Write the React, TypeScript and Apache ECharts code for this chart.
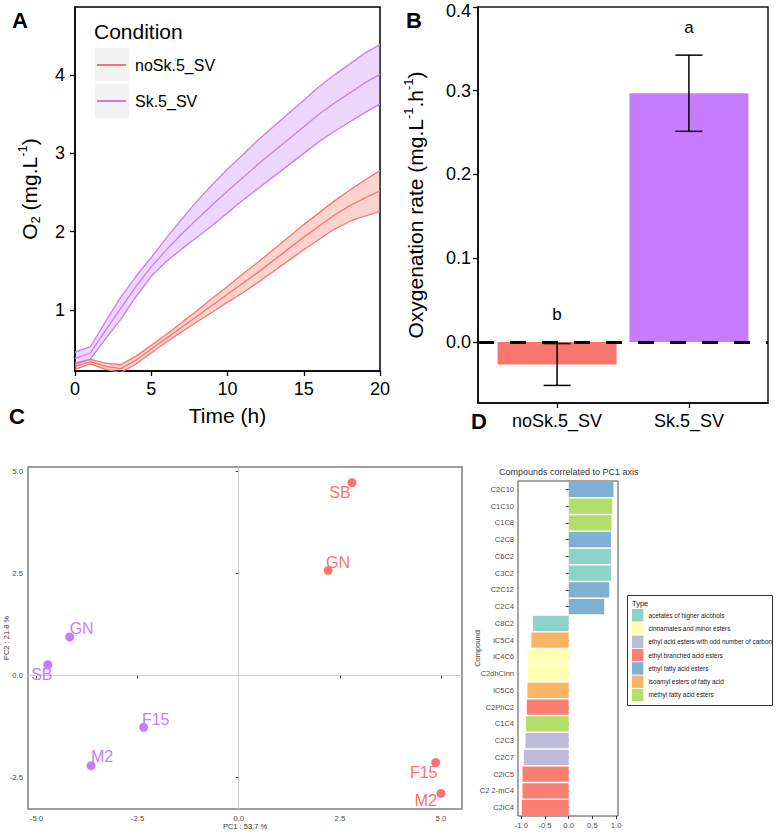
import React, { useEffect, useRef } from 'react';
import * as echarts from 'echarts';

const FONT = 'Liberation Sans, Arial, Helvetica, sans-serif';
const RED = '#F8766D';
const PURPLE = '#C77CFF';
const RED_FILL = 'rgba(248,118,109,0.32)';
const PURPLE_FILL = 'rgba(199,124,255,0.3)';

// ---------- Panel A: O2 over time ----------
const conditions = ['noSk.5_SV', 'Sk.5_SV'];
const timeH = [0, 1, 2, 3, 4, 5, 6, 7, 8, 9, 10, 11, 12, 13, 14, 15, 16, 17, 18, 19, 20];
const noSkMean = [0.28, 0.34, 0.28, 0.25, 0.36, 0.5, 0.64, 0.78, 0.92, 1.06, 1.2, 1.34, 1.48, 1.63, 1.78, 1.93, 2.07, 2.21, 2.33, 2.43, 2.52];
const noSkUpper = [0.32, 0.37, 0.32, 0.3, 0.41, 0.55, 0.69, 0.84, 0.99, 1.15, 1.3, 1.46, 1.61, 1.77, 1.93, 2.09, 2.24, 2.39, 2.53, 2.66, 2.78];
const noSkLower = [0.24, 0.31, 0.24, 0.2, 0.31, 0.45, 0.59, 0.72, 0.85, 0.97, 1.1, 1.22, 1.35, 1.49, 1.63, 1.77, 1.9, 2.03, 2.13, 2.2, 2.26];
const skMean = [0.38, 0.45, 0.74, 1.02, 1.3, 1.55, 1.77, 1.97, 2.16, 2.34, 2.52, 2.69, 2.86, 3.02, 3.18, 3.34, 3.5, 3.64, 3.77, 3.9, 4.01];
const skUpper = [0.46, 0.53, 0.85, 1.16, 1.43, 1.67, 1.92, 2.16, 2.39, 2.6, 2.8, 2.98, 3.17, 3.34, 3.51, 3.68, 3.85, 4.0, 4.14, 4.28, 4.39];
const skLower = [0.3, 0.37, 0.63, 0.88, 1.17, 1.43, 1.62, 1.78, 1.93, 2.08, 2.24, 2.4, 2.55, 2.7, 2.85, 3.0, 3.15, 3.28, 3.4, 3.52, 3.63];
const aYTicks = [1, 2, 3, 4];

// ---------- Panel B: oxygenation rate ----------
const rateMean = [-0.027, 0.297];
const rateSE = [0.025, 0.0455];
const sigLetters = ['b', 'a'];
const bYTicks = [0, 0.1, 0.2, 0.3, 0.4];

// ---------- Panel C: PCA ----------
const pcaNames = ['SB', 'GN', 'F15', 'M2'];
const pcaNoSkPC1 = [2.8, 2.21, 4.87, 5.0];
const pcaNoSkPC2 = [4.72, 2.57, -2.13, -2.89];
const pcaSkPC1 = [-4.72, -4.18, -2.35, -3.65];
const pcaSkPC2 = [0.26, 0.94, -1.27, -2.21];
const cXTicks = [-5, -2.5, 0, 2.5, 5];
const cYTicks = [-2.5, 0, 2.5, 5];
// label placement (style only)
const noSkLabelOffsets = [[-12, 10], [10, -8], [-12, 10], [-15, 7]];
const skLabelOffsets = [[-6, 10], [12, -8], [12, -8], [11, -9]];

// ---------- Panel D: correlations ----------
const compounds = ['C2C10', 'C1C10', 'C1C8', 'C2C8', 'C6C2', 'C3C2', 'C2C12', 'C2C4', 'C8C2', 'iC5C4', 'iC4C6', 'C2dhCinn', 'iC5C6', 'C2PhC2', 'C1C4', 'C2C3', 'C2C7', 'C2iC5', 'C2 2-mC4', 'C2iC4'];
const correlations = [0.945, 0.919, 0.905, 0.891, 0.891, 0.89, 0.856, 0.751, -0.751, -0.786, -0.863, -0.863, -0.87, -0.884, -0.898, -0.912, -0.947, -0.975, -0.975, -0.99];
const typeNames = ['acetates of higher alcohols', 'cinnamates and minor esters', 'ethyl acid esters with odd number of carbon', 'ethyl branched acid esters', 'ethyl fatty acid esters', 'isoamyl esters of fatty acid', 'methyl fatty acid esters'];
const typeColors = ['#8DD3C7', '#FFFFB3', '#BEBADA', '#FB8072', '#80B1D3', '#FDB462', '#B3DE69'];
const compoundTypes = [
  'ethyl fatty acid esters', 'methyl fatty acid esters', 'methyl fatty acid esters', 'ethyl fatty acid esters',
  'acetates of higher alcohols', 'acetates of higher alcohols', 'ethyl fatty acid esters', 'ethyl fatty acid esters',
  'acetates of higher alcohols', 'isoamyl esters of fatty acid', 'cinnamates and minor esters', 'cinnamates and minor esters',
  'isoamyl esters of fatty acid', 'ethyl branched acid esters', 'methyl fatty acid esters',
  'ethyl acid esters with odd number of carbon', 'ethyl acid esters with odd number of carbon',
  'ethyl branched acid esters', 'ethyl branched acid esters', 'ethyl branched acid esters',
];
const dXTicks = [-1, -0.5, 0, 0.5, 1];

const richBig = {
  a: { fontSize: 21, color: '#000', lineHeight: 26, fontFamily: FONT },
  s: { fontSize: 13, color: '#000', lineHeight: 13, verticalAlign: 'bottom', fontFamily: FONT },
  p: { fontSize: 13, color: '#000', lineHeight: 13, verticalAlign: 'top', fontFamily: FONT },
};

function buildOption() {
  const lineBase = { type: 'line', xAxisIndex: 0, yAxisIndex: 0, symbol: 'none', silent: true };
  const lines = (name, color, lower, upper, mean) => [
    { ...lineBase, name, color, data: timeH.map((t, i) => [t, mean[i]]), lineStyle: { color, width: 1.3 }, z: 3 },
    { ...lineBase, name, color, data: timeH.map((t, i) => [t, lower[i]]), lineStyle: { color, width: 1.3 }, z: 3 },
    { ...lineBase, name, color, data: timeH.map((t, i) => [t, upper[i]]), lineStyle: { color, width: 1.3 }, z: 3 },
  ];
  const ribbon = (name, fill, lower, upper) => ({
    type: 'custom', name, xAxisIndex: 0, yAxisIndex: 0, silent: true, clip: true, z: 1,
    encode: { x: 0, y: [1, 2] },
    data: timeH.map((t, i) => [t, lower[i], upper[i]]),
    renderItem: (params, api) => {
      if (params.dataIndex !== 0) return null;
      const pts = [];
      for (let i = 0; i < timeH.length; i++) pts.push(api.coord([timeH[i], upper[i]]));
      for (let i = timeH.length - 1; i >= 0; i--) pts.push(api.coord([timeH[i], lower[i]]));
      return { type: 'polygon', shape: { points: pts }, style: { fill } };
    },
  });

  const titleStyle = { fontSize: 22, fontWeight: 'bold', color: '#000', fontFamily: FONT };

  const axisBlack = { show: true, onZero: false, lineStyle: { color: '#000', width: 1.5 } };
  const tickBlack = { show: true, length: 5, lineStyle: { color: '#000', width: 1.3 } };
  const labelBlack = { fontSize: 18, color: '#000', fontFamily: FONT };

  const smallLabel = { fontSize: 7.7, color: '#4d4d4d', fontFamily: FONT };
  const smallTick = { show: true, length: 3, lineStyle: { color: '#333', width: 1 } };

  const bMax = bYTicks[bYTicks.length - 1];

  return {
    animation: false,
    textStyle: { fontFamily: FONT },
    title: [
      { text: 'A', left: 12, top: 9, padding: 0, textStyle: titleStyle },
      { text: 'B', left: 406, top: 9, padding: 0, textStyle: titleStyle },
      { text: 'C', left: 9, top: 405, padding: 0, textStyle: titleStyle },
      { text: 'D', left: 471, top: 410, padding: 0, textStyle: titleStyle },
      { text: 'Condition', left: 94, top: 21, padding: 0, textStyle: { fontSize: 21, fontWeight: 'normal', color: '#000', fontFamily: FONT } },
      { text: 'Compounds correlated to PC1 axis', left: 499, top: 467, padding: 0, textStyle: { fontSize: 9, fontWeight: 'normal', color: '#333', fontFamily: FONT } },
    ],
    graphic: [
      { type: 'rect', z: 0, shape: { x: 95, y: 48, width: 34, height: 33 }, style: { fill: '#F2F2F2' } },
      { type: 'rect', z: 0, shape: { x: 95, y: 84, width: 34, height: 34 }, style: { fill: '#F2F2F2' } },
      { type: 'rect', z: 0, shape: { x: 627.5, y: 595.5, width: 145, height: 110 }, style: { fill: 'transparent', stroke: '#333', lineWidth: 1 } },
      { type: 'text', z: 1, x: 632, y: 599, style: { text: 'Type', fontSize: 7.5, fill: '#1a1a1a', fontFamily: FONT } },
    ],
    legend: [
      {
        data: conditions, left: 97, top: 56, orient: 'vertical', icon: 'rect', itemWidth: 29, itemHeight: 2,
        itemGap: 18, padding: 0, selectedMode: false,
        textStyle: { fontSize: 16, color: '#000', lineHeight: 18, padding: [0, 0, 0, 4], fontFamily: FONT },
      },
      {
        data: typeNames, left: 632, top: 609, orient: 'vertical', icon: 'rect', itemWidth: 11.4, itemHeight: 12.4,
        itemGap: 0.9, padding: 0, selectedMode: false,
        textStyle: { fontSize: 6.4, color: '#1a1a1a', fontFamily: FONT },
      },
    ],
    grid: [
      { left: 75, top: 7, width: 305, height: 364, show: true, borderColor: '#000', borderWidth: 1.5, backgroundColor: '#fff', outerBoundsMode: 'none', containLabel: false },
      { left: 478, top: 7, width: 290, height: 396, show: true, borderColor: '#1a1a1a', borderWidth: 1.5, backgroundColor: '#fff', outerBoundsMode: 'none', containLabel: false },
      { left: 28, top: 467, width: 434, height: 342, show: true, borderColor: '#7f7f7f', borderWidth: 1.5, backgroundColor: '#fff', outerBoundsMode: 'none', containLabel: false },
      { left: 518, top: 481, width: 100, height: 335, show: true, borderColor: '#4d4d4d', borderWidth: 1, backgroundColor: '#fff', outerBoundsMode: 'none', containLabel: false },
    ],
    xAxis: [
      {
        type: 'value', gridIndex: 0, min: 0, max: 20, interval: 5,
        axisLine: axisBlack, axisTick: tickBlack, axisLabel: { ...labelBlack, margin: 9 }, splitLine: { show: false },
        name: 'Time (h)', nameLocation: 'middle', nameGap: 34, nameMoveOverlap: false,
        nameTextStyle: { fontSize: 21, color: '#000', fontFamily: FONT },
      },
      {
        type: 'value', gridIndex: 1, min: 0.4, max: 2.6,
        axisLine: axisBlack, axisTick: { ...tickBlack, customValues: [1, 2] },
        axisLabel: { ...labelBlack, margin: 9, customValues: [1, 2], formatter: (v) => conditions[Math.round(v) - 1] || '' },
        splitLine: { show: false },
      },
      {
        type: 'value', gridIndex: 2, min: -5.21, max: 5.52,
        axisLine: { show: false }, axisTick: { ...smallTick, customValues: cXTicks },
        axisLabel: { ...smallLabel, margin: 5, customValues: cXTicks, formatter: (v) => v.toFixed(1) },
        splitLine: { show: false },
        name: 'PC1 : 53.7 %', nameLocation: 'middle', nameGap: 13, nameMoveOverlap: false,
        nameTextStyle: { fontSize: 7.5, color: '#333', fontFamily: FONT },
      },
      {
        type: 'value', gridIndex: 3, min: -1.07, max: 1.04,
        axisLine: { show: false }, axisTick: { ...smallTick, customValues: dXTicks },
        axisLabel: { ...smallLabel, margin: 5, customValues: dXTicks, formatter: (v) => v.toFixed(1) },
        splitLine: { show: false },
      },
    ],
    yAxis: [
      {
        type: 'value', gridIndex: 0, min: 0.22, max: 4.87,
        axisLine: axisBlack, axisTick: { ...tickBlack, customValues: aYTicks },
        axisLabel: { ...labelBlack, margin: 10, customValues: aYTicks, formatter: (v) => String(v) },
        splitLine: { show: false },
        name: '{a|O}{s|2}{a| (mg.L}{p|-1}{a|)}', nameLocation: 'middle', nameGap: 33, nameRotate: 90, nameMoveOverlap: false,
        nameTextStyle: { fontSize: 21, color: '#000', rich: richBig },
      },
      {
        type: 'value', gridIndex: 1, min: -0.073, max: 0.4,
        axisLine: axisBlack, axisTick: { ...tickBlack, customValues: bYTicks },
        axisLabel: {
          ...labelBlack, lineHeight: 14, margin: 7, customValues: bYTicks,
          formatter: (v) => (Math.abs(v - bMax) < 1e-9 ? '{m|' + v.toFixed(1) + '}' : v.toFixed(1)),
          rich: { m: { fontSize: 18, lineHeight: 14, color: '#000', fontFamily: FONT, padding: [7, 0, 0, 0] } },
        },
        splitLine: { show: false },
        name: '{a|Oxygenation rate (mg.L}{p|-1}{a|.h}{p|-1}{a|)}', nameLocation: 'middle', nameGap: 50, nameRotate: 90, nameMoveOverlap: false,
        nameTextStyle: { fontSize: 21, color: '#000', rich: richBig },
      },
      {
        type: 'value', gridIndex: 2, min: -3.27, max: 5.1,
        axisLine: { show: false }, axisTick: { ...smallTick, customValues: cYTicks },
        axisLabel: { ...smallLabel, margin: 5, customValues: cYTicks, formatter: (v) => v.toFixed(1) },
        splitLine: { show: false },
        name: 'PC2 : 21.8 %', nameLocation: 'middle', nameGap: 17.5, nameRotate: 90, nameMoveOverlap: false,
        nameTextStyle: { fontSize: 7.5, color: '#333', fontFamily: FONT },
      },
      {
        type: 'category', gridIndex: 3, data: compounds, inverse: true,
        axisLine: { show: false }, axisTick: { ...smallTick, alignWithLabel: true },
        axisLabel: { ...smallLabel, fontSize: 7.5, margin: 4 },
        name: 'Compound', nameLocation: 'middle', nameGap: 37, nameRotate: 90, nameMoveOverlap: false,
        nameTextStyle: { fontSize: 7.5, color: '#333', fontFamily: FONT },
      },
    ],
    series: [
      ...lines(conditions[0], RED, noSkLower, noSkUpper, noSkMean),
      ...lines(conditions[1], PURPLE, skLower, skUpper, skMean),
      ribbon('noSk.5_SV ribbon', RED_FILL, noSkLower, noSkUpper),
      ribbon('Sk.5_SV ribbon', PURPLE_FILL, skLower, skUpper),
      {
        type: 'bar', name: 'Oxygenation rate', xAxisIndex: 1, yAxisIndex: 1, barWidth: 119, silent: true,
        data: rateMean.map((m, i) => ({ value: [i + 1, m], itemStyle: { color: i === 0 ? RED : PURPLE } })),
        markLine: {
          silent: true, symbol: ['none', 'none'], label: { show: false },
          lineStyle: { type: [16, 16], color: '#000', width: 3 },
          data: [{ yAxis: 0 }],
        },
      },
      {
        type: 'custom', name: 'SE', xAxisIndex: 1, yAxisIndex: 1, silent: true, z: 4,
        encode: { x: 0, y: [1, 2] },
        data: rateMean.map((m, i) => [i + 1, m - rateSE[i], m + rateSE[i]]),
        renderItem: (params, api) => {
          const lo = api.coord([api.value(0), api.value(1)]);
          const hi = api.coord([api.value(0), api.value(2)]);
          const w = 13.5;
          const st = { stroke: '#000', lineWidth: 1.5 };
          return {
            type: 'group',
            children: [
              { type: 'line', shape: { x1: hi[0], y1: hi[1], x2: lo[0], y2: lo[1] }, style: st },
              { type: 'line', shape: { x1: hi[0] - w, y1: hi[1], x2: hi[0] + w, y2: hi[1] }, style: st },
              { type: 'line', shape: { x1: lo[0] - w, y1: lo[1], x2: lo[0] + w, y2: lo[1] }, style: st },
            ],
          };
        },
      },
      {
        type: 'custom', name: 'letters', xAxisIndex: 1, yAxisIndex: 1, silent: true, z: 6,
        encode: { x: 0, y: 1 },
        data: rateMean.map((m, i) => [i + 1, Math.max(m + rateSE[i], 0) + 0.033]),
        renderItem: (params, api) => {
          const p = api.coord([api.value(0), api.value(1)]);
          return {
            type: 'text', x: p[0], y: p[1],
            style: { text: sigLetters[params.dataIndex], fontSize: 17, fill: '#000', fontFamily: FONT, align: 'center', verticalAlign: 'middle' },
          };
        },
      },
      {
        type: 'scatter', name: conditions[0], xAxisIndex: 2, yAxisIndex: 2, symbolSize: 9, silent: true, z: 5,
        itemStyle: { color: RED, opacity: 1 },
        label: { show: true, position: 'inside', formatter: '{b}', fontSize: 16, color: RED, fontFamily: FONT },
        data: pcaNames.map((n, i) => ({ name: n, value: [pcaNoSkPC1[i], pcaNoSkPC2[i]], label: { offset: noSkLabelOffsets[i] } })),
        markLine: {
          silent: true, symbol: ['none', 'none'], label: { show: false }, z: 1,
          lineStyle: { type: 'solid', color: '#cfcfcf', width: 1 },
          data: [{ xAxis: 0 }, { yAxis: 0 }],
        },
      },
      {
        type: 'scatter', name: conditions[1], xAxisIndex: 2, yAxisIndex: 2, symbolSize: 9, silent: true, z: 5,
        itemStyle: { color: PURPLE, opacity: 1 },
        label: { show: true, position: 'inside', formatter: '{b}', fontSize: 16, color: PURPLE, fontFamily: FONT },
        data: pcaNames.map((n, i) => ({ name: n, value: [pcaSkPC1[i], pcaSkPC2[i]], label: { offset: skLabelOffsets[i] } })),
      },
      ...typeNames.map((tn, k) => ({
        type: 'bar', name: tn, stack: 'corr', xAxisIndex: 3, yAxisIndex: 3, barWidth: '90%', silent: true,
        itemStyle: { color: typeColors[k] },
        data: correlations.map((c, i) => (compoundTypes[i] === tn ? c : '-')),
      })),
    ],
  };
}

export default function App() {
  const ref = useRef(null);
  useEffect(() => {
    if (!ref.current) return;
    const chart = echarts.init(ref.current, null, { renderer: 'svg' });
    chart.setOption(buildOption());
    return () => chart.dispose();
  }, []);
  return <div ref={ref} style={{ position: 'absolute', left: 0, top: 0, width: 776, height: 833, background: '#fff' }} />;
}
